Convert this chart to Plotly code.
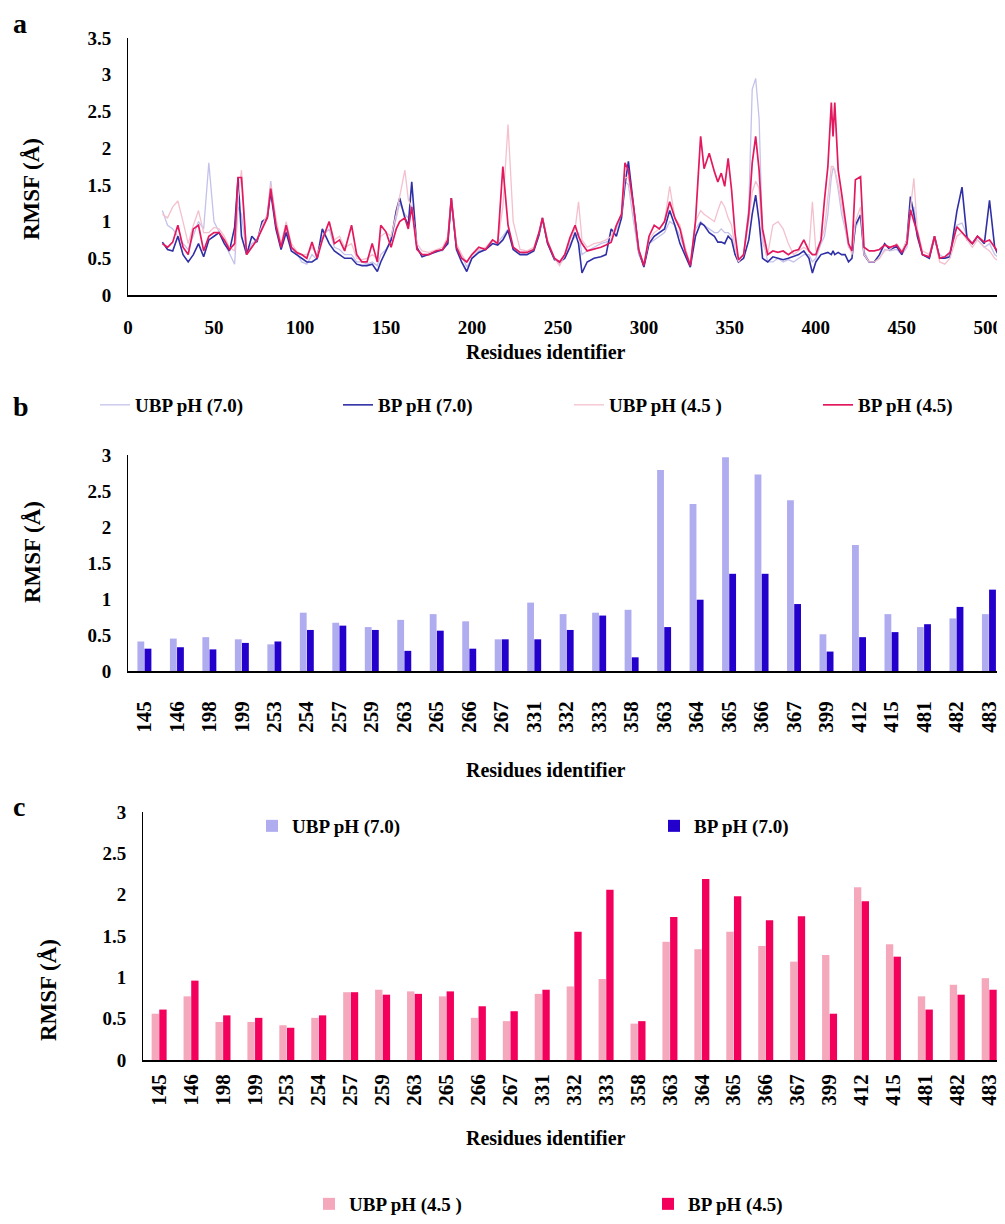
import plotly.graph_objects as go

# The page adds an 8px body margin, so the figure is laid out in page pixels
# and shifted by that margin (height trimmed so the page never scrolls).
PAGE_W, PAGE_H = 1005, 1224
OFF = 8
W, H = PAGE_W - OFF, PAGE_H - 2 * OFF

# ---------------- Panel a: RMSF per residue (line chart) ----------------
residues = [
    20, 23, 26, 29, 32, 35, 38, 41, 44, 47,
    50, 53, 56, 59, 62, 64, 66, 69, 72, 75,
    78, 81, 83, 86, 89, 92, 95, 98, 101, 104,
    107, 110, 113, 117, 120, 123, 126, 130, 133, 136,
    139, 142, 145, 147, 150, 153, 156, 158, 161, 163,
    165, 168, 171, 175, 179, 183, 186, 188, 191, 194,
    197, 200, 204, 208, 212, 215, 218, 221, 224, 228,
    232, 236, 239, 241, 244, 248, 251, 254, 257, 260,
    262, 264, 267, 271, 275, 278, 281, 284, 287, 289,
    291, 294, 297, 300, 303, 306, 309, 312, 315, 318,
    321, 324, 327, 330, 333, 335, 338, 341, 343, 345,
    347, 349, 351, 353, 355, 358, 361, 363, 365, 367,
    369, 372, 375, 378, 381, 384, 387, 390, 393, 396,
    398, 400, 403, 405, 407, 409, 410, 411, 413, 415,
    417, 419, 421, 423, 426, 428, 431, 434, 437, 440,
    443, 447, 450, 453, 455, 457, 459, 462, 466, 469,
    472, 475, 478, 482, 485, 488, 491, 494, 498, 501,
    504, 507, 510,
]

ubp_70 = [
    1.15, 0.95, 0.90, 0.80, 0.70, 0.62, 0.80, 1.00, 0.90, 1.80,
    1.00, 0.85, 0.70, 0.55, 0.42, 1.20, 1.10, 0.55, 0.70, 0.75,
    0.90, 1.10, 1.55, 1.00, 0.65, 0.90, 0.65, 0.58, 0.45, 0.42,
    0.55, 0.48, 0.80, 0.90, 0.65, 0.62, 0.55, 0.55, 0.45, 0.45,
    0.42, 0.45, 0.40, 0.55, 0.62, 0.75, 1.05, 1.25, 1.10, 1.05,
    1.20, 0.65, 0.55, 0.55, 0.60, 0.60, 0.75, 1.25, 0.65, 0.55,
    0.38, 0.50, 0.60, 0.62, 0.70, 0.72, 0.80, 0.90, 0.65, 0.58,
    0.55, 0.62, 0.80, 1.02, 0.70, 0.50, 0.42, 0.50, 0.70, 0.80,
    0.85, 0.55, 0.60, 0.65, 0.70, 0.72, 0.75, 0.90, 1.10, 1.55,
    1.50, 1.00, 0.55, 0.40, 0.70, 0.75, 0.80, 0.85, 1.00, 0.95,
    0.80, 0.60, 0.40, 0.90, 1.00, 0.95, 0.90, 0.85, 0.85, 0.90,
    0.85, 0.85, 0.80, 0.60, 0.45, 0.55, 1.20, 2.80, 2.95, 2.40,
    0.80, 0.45, 0.45, 0.50, 0.45, 0.48, 0.45, 0.50, 0.55, 0.55,
    0.45, 0.50, 0.70, 0.80, 1.10, 1.60, 1.73, 1.70, 1.43, 1.10,
    0.90, 0.65, 0.60, 0.90, 1.09, 0.60, 0.45, 0.45, 0.50, 0.62,
    0.60, 0.62, 0.55, 0.65, 1.10, 1.20, 0.85, 0.55, 0.50, 0.75,
    0.55, 0.50, 0.55, 0.95, 0.98, 0.80, 0.70, 0.75, 0.65, 0.70,
    0.55, 0.50, 0.45,
]

bp_70 = [
    0.72, 0.62, 0.60, 0.80, 0.55, 0.45, 0.55, 0.70, 0.52, 0.75,
    0.80, 0.85, 0.70, 0.60, 0.92, 1.60, 0.80, 0.55, 0.80, 0.72,
    1.00, 1.05, 1.40, 0.90, 0.62, 0.85, 0.60, 0.55, 0.50, 0.45,
    0.45, 0.50, 0.90, 0.70, 0.60, 0.55, 0.50, 0.50, 0.42, 0.40,
    0.40, 0.42, 0.32, 0.45, 0.60, 0.75, 1.15, 1.32, 1.05, 0.95,
    1.54, 0.65, 0.52, 0.55, 0.58, 0.62, 0.70, 1.32, 0.62, 0.45,
    0.32, 0.50, 0.58, 0.62, 0.70, 0.68, 0.75, 0.88, 0.62, 0.55,
    0.55, 0.60, 0.82, 1.05, 0.70, 0.48, 0.45, 0.50, 0.65, 0.85,
    0.70, 0.30, 0.45, 0.50, 0.52, 0.55, 0.90, 0.80, 1.05, 1.50,
    1.82, 1.20, 0.60, 0.38, 0.70, 0.80, 0.85, 0.90, 1.15, 0.95,
    0.70, 0.55, 0.38, 0.80, 0.98, 0.95, 0.85, 0.80, 0.72, 0.72,
    0.70, 0.80, 0.75, 0.55, 0.45, 0.50, 0.75, 1.10, 1.36, 1.00,
    0.50, 0.45, 0.52, 0.50, 0.48, 0.50, 0.52, 0.55, 0.60, 0.50,
    0.30, 0.45, 0.55, 0.57, 0.58, 0.55, 0.60, 0.55, 0.58, 0.55,
    0.55, 0.45, 0.50, 0.95, 1.09, 0.55, 0.45, 0.45, 0.55, 0.70,
    0.62, 0.66, 0.55, 0.75, 1.34, 1.10, 0.80, 0.55, 0.50, 0.80,
    0.50, 0.50, 0.52, 1.14, 1.47, 0.75, 0.70, 0.80, 0.70, 1.29,
    0.65, 0.50, 0.45,
]

ubp_45 = [
    1.10, 1.05, 1.20, 1.28, 1.00, 0.70, 0.95, 1.15, 0.85, 0.85,
    0.92, 0.90, 0.80, 0.65, 0.60, 1.30, 1.70, 0.55, 0.65, 0.75,
    0.95, 1.10, 1.50, 1.05, 0.70, 1.00, 0.70, 0.60, 0.55, 0.55,
    0.65, 0.55, 0.75, 1.00, 0.75, 0.80, 0.65, 0.70, 0.50, 0.48,
    0.50, 0.55, 0.50, 0.80, 0.85, 0.80, 1.10, 1.35, 1.70, 1.30,
    1.20, 0.70, 0.60, 0.58, 0.62, 0.65, 0.80, 1.30, 0.70, 0.55,
    0.45, 0.55, 0.62, 0.65, 0.75, 0.72, 1.20, 2.32, 1.00, 0.62,
    0.60, 0.65, 0.85, 1.05, 0.75, 0.50, 0.40, 0.55, 0.75, 0.90,
    1.27, 0.75, 0.65, 0.70, 0.72, 0.75, 0.80, 0.95, 1.10, 1.60,
    1.60, 1.15, 0.60, 0.42, 0.75, 0.85, 0.90, 1.00, 1.48, 1.05,
    0.95, 0.65, 0.42, 1.00, 1.15, 1.10, 1.05, 1.00, 1.15, 1.28,
    1.20, 1.05, 0.95, 0.65, 0.45, 0.55, 1.00, 1.40, 1.55, 1.45,
    0.70, 0.55, 0.95, 1.00, 0.90, 0.70, 0.55, 0.60, 0.65, 0.60,
    1.27, 0.60, 0.75, 0.90, 1.30, 1.75, 1.75, 1.70, 1.50, 1.20,
    0.95, 0.70, 0.55, 1.00, 1.20, 0.55, 0.45, 0.45, 0.50, 0.60,
    0.62, 0.70, 0.60, 0.75, 1.20, 1.59, 0.90, 0.60, 0.55, 0.80,
    0.45, 0.42, 0.50, 0.80, 0.85, 0.75, 0.65, 0.75, 0.65, 0.60,
    0.50, 0.45, 0.40,
]

bp_45 = [
    0.70, 0.65, 0.72, 0.95, 0.65, 0.55, 0.90, 0.95, 0.60, 0.80,
    0.85, 0.85, 0.75, 0.62, 0.70, 1.60, 1.60, 0.55, 0.65, 0.75,
    0.90, 1.05, 1.45, 0.95, 0.65, 0.95, 0.65, 0.58, 0.55, 0.50,
    0.72, 0.50, 0.75, 1.00, 0.70, 0.75, 0.60, 0.95, 0.55, 0.45,
    0.45, 0.70, 0.45, 0.95, 0.86, 0.65, 0.90, 1.00, 1.05, 0.90,
    1.20, 0.62, 0.55, 0.55, 0.60, 0.62, 0.75, 1.32, 0.65, 0.50,
    0.45, 0.55, 0.65, 0.62, 0.75, 0.70, 1.75, 0.95, 0.65, 0.58,
    0.58, 0.62, 0.85, 1.05, 0.72, 0.50, 0.45, 0.55, 0.78, 0.95,
    0.80, 0.70, 0.60, 0.62, 0.65, 0.68, 0.72, 0.95, 1.10, 1.80,
    1.70, 1.20, 0.62, 0.40, 0.80, 0.95, 0.90, 1.00, 1.27, 1.05,
    0.90, 0.60, 0.40, 1.00, 2.16, 1.72, 1.93, 1.68, 1.54, 1.66,
    1.48, 1.86, 1.43, 0.84, 0.48, 0.55, 1.10, 1.80, 2.16, 1.70,
    0.90, 0.55, 0.60, 0.58, 0.60, 0.55, 0.60, 0.62, 0.75, 0.60,
    0.55, 0.55, 0.75, 1.29, 1.75, 2.62, 2.16, 2.62, 1.70, 1.38,
    1.07, 0.70, 0.60, 1.57, 1.61, 0.65, 0.60, 0.60, 0.62, 0.68,
    0.65, 0.68, 0.58, 0.70, 1.16, 1.00, 0.85, 0.55, 0.52, 0.80,
    0.50, 0.52, 0.58, 0.93, 0.85, 0.78, 0.70, 0.80, 0.72, 0.75,
    0.65, 0.55, 0.45,
]

# ---------------- Panels b and c: selected residues (bar charts) ----------------
bar_residues = ["145", "146", "198", "199", "253", "254", "257", "259", "263",
                "265", "266", "267", "331", "332", "333", "358", "363", "364",
                "365", "366", "367", "399", "412", "415", "481", "482", "483"]
bar_ubp_70 = [0.41, 0.45, 0.47, 0.44, 0.37, 0.81, 0.67, 0.61, 0.71,
              0.79, 0.69, 0.44, 0.95, 0.79, 0.81, 0.85, 2.79, 2.32,
              2.97, 2.73, 2.37, 0.51, 1.75, 0.79, 0.61, 0.73, 0.79]
bar_bp_70 = [0.31, 0.33, 0.30, 0.39, 0.41, 0.57, 0.63, 0.57, 0.28,
             0.56, 0.31, 0.44, 0.44, 0.57, 0.77, 0.19, 0.61, 0.99,
             1.35, 1.35, 0.93, 0.27, 0.47, 0.54, 0.65, 0.89, 1.13]
bar_ubp_45 = [0.56, 0.77, 0.46, 0.46, 0.42, 0.51, 0.82, 0.85, 0.83,
              0.77, 0.51, 0.47, 0.80, 0.89, 0.98, 0.44, 1.43, 1.34,
              1.55, 1.38, 1.19, 1.27, 2.09, 1.40, 0.77, 0.91, 0.99]
bar_bp_45 = [0.61, 0.96, 0.54, 0.51, 0.39, 0.54, 0.82, 0.79, 0.80,
             0.83, 0.65, 0.59, 0.85, 1.55, 2.06, 0.47, 1.73, 2.19,
             1.98, 1.69, 1.74, 0.56, 1.92, 1.25, 0.61, 0.79, 0.85]

FONT = "Liberation Serif"


def px(x):
    """page pixel x -> paper fraction"""
    return (x - OFF) / W


def py(y):
    """page pixel y (from top) -> paper fraction"""
    return 1 - (y - OFF) / H


fig = go.Figure()

# line traces (panel a)
line_specs = [
    ("UBP pH (7.0)", ubp_70, "#c4c2ea", 1.3, "legend"),
    ("BP pH (7.0)", bp_70, "#2f2fa6", 1.6, "legend2"),
    ("UBP pH (4.5 )", ubp_45, "#f4c0cd", 1.3, "legend3"),
    ("BP pH (4.5)", bp_45, "#e2195f", 1.7, "legend4"),
]
for name, vals, col, lw, lg in line_specs:
    fig.add_trace(go.Scatter(x=residues, y=vals, mode="lines", name=name,
                             line=dict(color=col, width=lw), showlegend=True,
                             xaxis="x", yaxis="y", legend=lg))

# bar traces (panel b)
wb = 0.21
fig.add_trace(go.Bar(x=bar_residues, y=bar_ubp_70, name="UBP pH (7.0)",
                     marker=dict(color="#b0acf0", line=dict(width=0)), showlegend=True,
                     width=wb, offset=-wb, xaxis="x2", yaxis="y2", legend="legend5"))
fig.add_trace(go.Bar(x=bar_residues, y=bar_bp_70, name="BP pH (7.0)",
                     marker=dict(color="#2300cc", line=dict(width=0)), showlegend=True,
                     width=wb, offset=0.01, xaxis="x2", yaxis="y2", legend="legend6"))

# bar traces (panel c)
wc = 0.23
fig.add_trace(go.Bar(x=bar_residues, y=bar_ubp_45, name="UBP pH (4.5 )",
                     marker=dict(color="#f5a8bc", line=dict(width=0)), showlegend=True,
                     width=wc, offset=-wc, xaxis="x3", yaxis="y3", legend="legend7"))
fig.add_trace(go.Bar(x=bar_residues, y=bar_bp_45, name="BP pH (4.5)",
                     marker=dict(color="#f2005c", line=dict(width=0)), showlegend=True,
                     width=wc, offset=0.01, xaxis="x3", yaxis="y3", legend="legend8"))

axis_common = dict(showline=True, linecolor="black", showgrid=False,
                   zeroline=False, ticks="", color="black", automargin=False)

layout = dict(
    template="none",
    width=W, height=H,
    margin=dict(l=0, r=0, t=0, b=0, autoexpand=False),
    paper_bgcolor="white", plot_bgcolor="white",
    showlegend=True,
    font=dict(family=FONT, size=19, color="black", weight="bold"),
    barmode="overlay",
    xaxis=dict(domain=[px(128), 1], range=[0, 510], dtick=50, anchor="y",
               linewidth=1.5, tickfont=dict(size=19), ticklabelstandoff=14,
               ticklabeloverflow="allow", **axis_common),
    yaxis=dict(domain=[py(295), py(38)], range=[0, 3.5], dtick=0.5, anchor="x",
               linewidth=1, tickfont=dict(size=19), ticklabelstandoff=12,
               **axis_common),
    xaxis2=dict(domain=[px(128), 1], type="category", range=[-0.5, 26.5],
                anchor="y2", tickangle=-90, linewidth=1.5,
                tickfont=dict(size=21), ticklabelstandoff=20,
                ticklabeloverflow="allow", **axis_common),
    yaxis2=dict(domain=[py(671), py(455)], range=[0, 3], dtick=0.5, anchor="x2",
                linewidth=1, tickfont=dict(size=19), ticklabelstandoff=12,
                **axis_common),
    xaxis3=dict(domain=[px(143), 1], type="category", range=[-0.5, 26.5],
                anchor="y3", tickangle=-90, linewidth=1.5,
                tickfont=dict(size=21), ticklabelstandoff=4,
                ticklabeloverflow="allow", **axis_common),
    yaxis3=dict(domain=[py(1060), py(812)], range=[0, 3], dtick=0.5, anchor="x3",
                linewidth=1, tickfont=dict(size=19), ticklabelstandoff=12,
                **axis_common),
)

# individual legends, positioned to match the reference
legend_pos = {
    "legend": (95, 405), "legend2": (338, 405), "legend3": (569, 405), "legend4": (818, 405),
    "legend5": (252, 826), "legend6": (654, 826), "legend7": (309, 1204), "legend8": (648, 1204),
}
for key, (lx, ly) in legend_pos.items():
    layout[key] = dict(x=px(lx), y=py(ly), xanchor="left", yanchor="middle",
                       orientation="h", bgcolor="rgba(0,0,0,0)", borderwidth=0,
                       font=dict(family=FONT, size=19, color="black", weight="bold"),
                       itemwidth=30, tracegroupgap=0, visible=True)

fig.update_layout(**layout)

annotations = []
for txt, x, y in [("a", 20, 24), ("b", 21, 407), ("c", 19, 806)]:
    annotations.append(dict(text=txt, x=px(x), y=py(y), xref="paper", yref="paper",
                            showarrow=False, xanchor="center", yanchor="middle",
                            font=dict(family=FONT, size=28, color="black", weight="bold")))
for x, y in [(32, 189), (32, 552), (48, 990)]:
    annotations.append(dict(text="RMSF (Å)", x=px(x), y=py(y), xref="paper", yref="paper",
                            showarrow=False, textangle=-90, xanchor="center", yanchor="middle",
                            font=dict(family=FONT, size=23, color="black", weight="bold")))
for x, y in [(546, 352), (546, 770), (546, 1138)]:
    annotations.append(dict(text="Residues identifier", x=px(x), y=py(y), xref="paper",
                            yref="paper", showarrow=False, xanchor="center", yanchor="middle",
                            font=dict(family=FONT, size=20, color="black", weight="bold")))
fig.update_layout(annotations=annotations)

fig.write_html("out.html")
